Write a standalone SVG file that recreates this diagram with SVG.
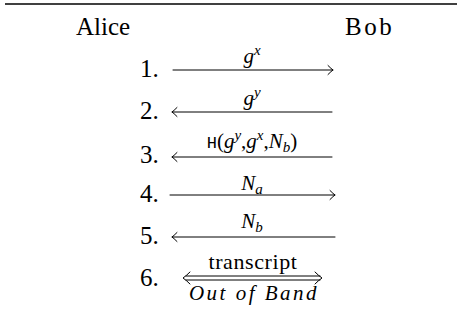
<svg xmlns="http://www.w3.org/2000/svg" width="459" height="332" viewBox="0 0 459 332">
<defs>
<marker id="ah" viewBox="-6 -6 8 12" markerWidth="8" markerHeight="12" refX="0" refY="0" orient="auto-start-reverse" markerUnits="userSpaceOnUse">
<path d="M-5,-4.5 Q-1.5,-1 0,0 Q-1.5,1 -5,4.5" stroke="#000" stroke-width="1" fill="none" stroke-linecap="round" stroke-linejoin="round"/>
</marker>
</defs>
<line x1="5" y1="4" x2="457" y2="4" stroke="#000" stroke-width="1.6"/>
<g id="alice"><text x="76" y="35" font-family="Liberation Serif" font-size="25">Alice</text></g>
<g id="bob"><text x="345" y="35" font-family="Liberation Serif" font-size="25" letter-spacing="2.5">Bob</text></g>
<g id="steps">
<text x="140" y="77" font-family="Liberation Serif" font-size="25">1.</text>
<text x="140" y="119" font-family="Liberation Serif" font-size="25">2.</text>
<text x="140" y="163" font-family="Liberation Serif" font-size="25">3.</text>
<text x="140" y="202" font-family="Liberation Serif" font-size="25">4.</text>
<text x="140" y="244" font-family="Liberation Serif" font-size="25">5.</text>
<text x="140" y="286" font-family="Liberation Serif" font-size="25">6.</text>
</g>
<g id="labels">
<text x="252" y="63" text-anchor="middle" font-family="Liberation Serif" font-size="21"><tspan font-style="italic">g</tspan><tspan font-size="15" font-style="italic" dy="-8">x</tspan></text>
<text x="252" y="105" text-anchor="middle" font-family="Liberation Serif" font-size="21"><tspan font-style="italic">g</tspan><tspan font-size="15" font-style="italic" dy="-8">y</tspan></text>
<text x="252" y="148" text-anchor="middle" font-family="Liberation Serif" font-size="21"><tspan font-family="Liberation Mono" font-size="17">H</tspan>(<tspan font-style="italic">g</tspan><tspan font-size="15" font-style="italic" dy="-8">y</tspan><tspan dy="8">,</tspan><tspan font-style="italic">g</tspan><tspan font-size="15" font-style="italic" dy="-8">x</tspan><tspan dy="8">,</tspan><tspan font-style="italic">N</tspan><tspan font-size="15" font-style="italic" dy="4">b</tspan><tspan dy="-4">)</tspan></text>
<text x="252" y="190" text-anchor="middle" font-family="Liberation Serif" font-size="21"><tspan font-style="italic">N</tspan><tspan font-size="15" font-style="italic" dy="4">a</tspan></text>
<text x="252" y="228" text-anchor="middle" font-family="Liberation Serif" font-size="21"><tspan font-style="italic">N</tspan><tspan font-size="15" font-style="italic" dy="4">b</tspan></text>
<text x="253" y="269" text-anchor="middle" font-family="Liberation Serif" font-size="22" letter-spacing="0.6">transcript</text>
<text x="254" y="300" text-anchor="middle" font-family="Liberation Serif" font-size="21" font-style="italic" letter-spacing="2.5">Out of Band</text>
</g>
<g id="connectors" stroke="#000" stroke-width="1" fill="none" stroke-linecap="round">
<line x1="173" y1="70" x2="333" y2="70" marker-end="url(#ah)"/>
<line x1="332" y1="112" x2="172" y2="112" marker-end="url(#ah)"/>
<line x1="332" y1="157" x2="172" y2="157" marker-end="url(#ah)"/>
<line x1="170" y1="195" x2="335" y2="195" marker-end="url(#ah)"/>
<line x1="335" y1="237" x2="172" y2="237" marker-end="url(#ah)"/>
<line x1="186" y1="276" x2="320" y2="276"/>
<line x1="186" y1="280" x2="320" y2="280"/>
<path d="M190,272 Q186,276 183,278 Q186,280 190,284"/>
<path d="M315,272 Q319,276 322,278 Q319,280 315,284"/>
</g>
</svg>
